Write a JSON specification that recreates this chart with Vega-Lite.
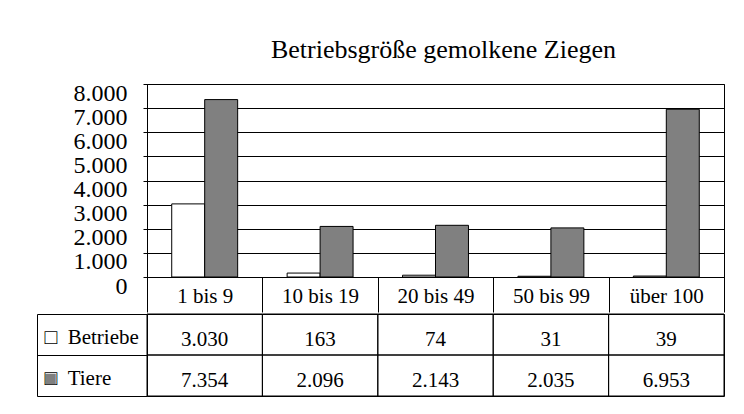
{
  "$schema": "https://vega.github.io/schema/vega-lite/v6.json",
  "padding": {"left": 36, "top": 36, "right": 5, "bottom": 5},
  "config": {
    "locale": {"number": {"decimal": ",", "thousands": ".", "grouping": [3], "currency": ["", " €"]}},
    "view": {"stroke": "black"},
    "font": "Liberation Serif"
  },
  "data": {"values": [
    {"Gruppe": "1 bis 9", "Serie": "Betriebe", "Wert": 3030},
    {"Gruppe": "10 bis 19", "Serie": "Betriebe", "Wert": 163},
    {"Gruppe": "20 bis 49", "Serie": "Betriebe", "Wert": 74},
    {"Gruppe": "50 bis 99", "Serie": "Betriebe", "Wert": 31},
    {"Gruppe": "über 100", "Serie": "Betriebe", "Wert": 39},
    {"Gruppe": "1 bis 9", "Serie": "Tiere", "Wert": 7354},
    {"Gruppe": "10 bis 19", "Serie": "Tiere", "Wert": 2096},
    {"Gruppe": "20 bis 49", "Serie": "Tiere", "Wert": 2143},
    {"Gruppe": "50 bis 99", "Serie": "Tiere", "Wert": 2035},
    {"Gruppe": "über 100", "Serie": "Tiere", "Wert": 6953}
  ]},
  "spacing": 0,
  "vconcat": [
    {
      "width": 577,
      "height": 193,
      "title": {"text": "Betriebsgröße gemolkene Ziegen", "font": "Liberation Serif", "fontSize": 26, "fontWeight": "normal", "color": "black", "anchor": "middle", "frame": "group", "dx": 8, "baseline": "alphabetic", "offset": -3},
      "mark": {"type": "bar", "stroke": "black", "strokeWidth": 1},
      "encoding": {
        "x": {
          "field": "Gruppe", "type": "nominal",
          "sort": ["1 bis 9", "10 bis 19", "20 bis 49", "50 bis 99", "über 100"],
          "scale": {"paddingInner": 0, "paddingOuter": 0},
          "axis": {"title": null, "labelAngle": 0, "labelFont": "Liberation Serif", "labelFontSize": 21, "labelColor": "black", "labelBaseline": "middle", "labelPadding": -16, "tickBand": "extent", "tickSize": 35, "tickColor": "black", "domainColor": "black"}
        },
        "xOffset": {"field": "Serie", "type": "nominal", "sort": ["Betriebe", "Tiere"], "scale": {"paddingInner": 0, "paddingOuter": 0.75}},
        "y": {
          "field": "Wert", "type": "quantitative",
          "scale": {"domain": [0, 8000], "nice": false},
          "axis": {"title": null, "values": [0, 1000, 2000, 3000, 4000, 5000, 6000, 7000, 8000], "format": ",d", "grid": true, "gridColor": "black", "gridOpacity": 1, "domainColor": "black", "tickColor": "black", "tickSize": 4, "labelFont": "Liberation Serif", "labelFontSize": 24, "labelColor": "black", "labelPadding": 16, "labelOverlap": false, "labelBaseline": "middle", "labelOffset": 9}
        },
        "fill": {"field": "Serie", "type": "nominal", "scale": {"domain": ["Betriebe", "Tiere"], "range": ["white", "#808080"]}, "legend": null}
      }
    },
    {
      "width": 577,
      "height": 82,
      "resolve": {"axis": {"y": "independent"}},
      "layer": [
        {
          "mark": {"type": "rect", "fill": "transparent", "stroke": "black", "strokeWidth": 1},
          "encoding": {
            "x": {"field": "Gruppe", "type": "nominal", "sort": ["1 bis 9", "10 bis 19", "20 bis 49", "50 bis 99", "über 100"], "scale": {"paddingInner": 0, "paddingOuter": 0}, "axis": null},
            "y": {"field": "Serie", "type": "nominal", "scale": {"domain": ["Betriebe", "Tiere"], "paddingInner": 0, "paddingOuter": 0},
              "axis": {"orient": "left", "offset": 110, "title": null, "domain": true, "domainColor": "black", "ticks": true, "tickBand": "extent", "tickSize": -110, "tickColor": "black", "labels": false, "zindex": 0}
            }
          }
        },
        {
          "transform": [{"filter": "datum.Serie == 'Betriebe'"}],
          "mark": {"type": "text", "font": "Liberation Serif", "fontSize": 21, "color": "black", "baseline": "middle", "dy": 5},
          "encoding": {
            "x": {"field": "Gruppe", "type": "nominal", "sort": ["1 bis 9", "10 bis 19", "20 bis 49", "50 bis 99", "über 100"], "axis": null},
            "y": {"field": "Serie", "type": "nominal", "scale": {"domain": ["Betriebe", "Tiere"]},
              "axis": {"orient": "left", "offset": 110, "title": null, "domain": false, "ticks": false, "labelExpr": "'□\u00a0\u00a0' + datum.value", "labelFont": "Liberation Serif", "labelFontSize": 21, "labelColor": "black", "labelAlign": "left", "labelPadding": -7, "labelBaseline": "middle", "labelOffset": 3, "zindex": 2}
            },
            "text": {"field": "Wert", "type": "quantitative", "format": ",d"}
          }
        },
        {
          "transform": [{"filter": "datum.Serie == 'Tiere'"}],
          "mark": {"type": "text", "font": "Liberation Serif", "fontSize": 21, "color": "black", "baseline": "middle", "dy": 5},
          "encoding": {
            "x": {"field": "Gruppe", "type": "nominal", "sort": ["1 bis 9", "10 bis 19", "20 bis 49", "50 bis 99", "über 100"], "axis": null},
            "y": {"field": "Serie", "type": "nominal", "scale": {"domain": ["Betriebe", "Tiere"]},
              "axis": {"orient": "left", "offset": 110, "title": null, "domain": false, "ticks": false, "labelExpr": "datum.value == 'Tiere' ? '■' : ''", "labelFont": "Liberation Serif", "labelFontSize": 21, "labelColor": "#808080", "labelAlign": "left", "labelPadding": -7, "labelBaseline": "middle", "labelOffset": 3, "zindex": 1}
            },
            "text": {"field": "Wert", "type": "quantitative", "format": ",d"}
          }
        }
      ]
    }
  ]
}
